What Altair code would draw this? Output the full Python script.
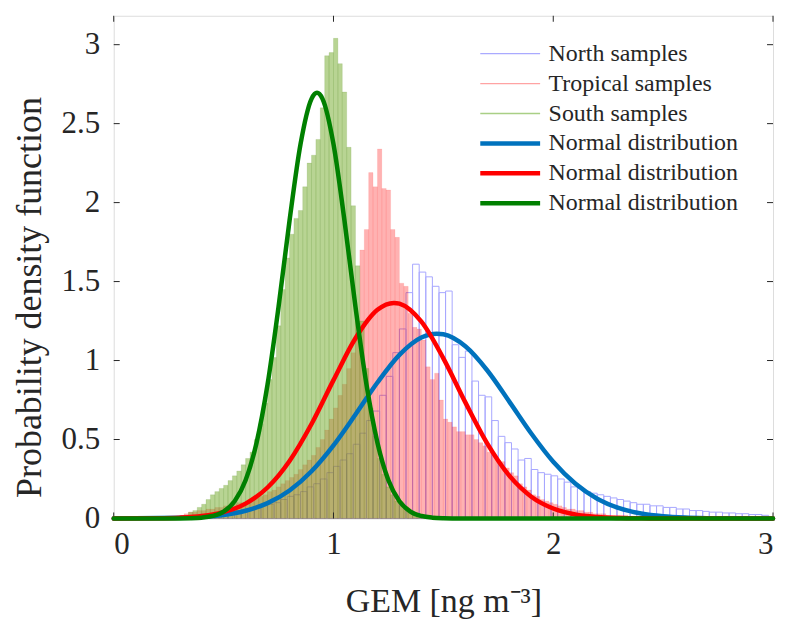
import altair as alt
import pandas as pd

# ---------------- data ----------------
# South samples histogram (pdf), bins of 0.02 starting at 0.30
south_start, south_width = 0.30, 0.02
south_vals = [0.01, 0.02, 0.04, 0.05, 0.07, 0.09, 0.12, 0.15, 0.17, 0.19,
              0.21, 0.24, 0.27, 0.30, 0.34, 0.38, 0.42, 0.50, 0.60, 0.73,
              0.88, 1.02, 1.22, 1.45, 1.65, 1.80, 1.90, 1.95, 2.10, 2.25,
              2.30, 2.40, 2.60, 2.93, 2.95, 3.04, 2.88, 2.70, 2.35, 1.98,
              1.60, 1.25, 0.95, 0.70, 0.52, 0.38, 0.28, 0.20, 0.15, 0.11,
              0.08, 0.06, 0.04, 0.03, 0.02, 0.01]

# Tropical samples histogram, bins of 0.02 starting at 0.28
trop_start, trop_width = 0.28, 0.02
trop_vals = [0.01, 0.02, 0.03, 0.04, 0.04, 0.05, 0.05, 0.06, 0.06, 0.07,
             0.07, 0.08, 0.08, 0.09, 0.10, 0.10, 0.11, 0.12, 0.13, 0.14,
             0.15, 0.17, 0.18, 0.20, 0.22, 0.24, 0.26, 0.28, 0.31, 0.34,
             0.37, 0.40, 0.45, 0.50, 0.56, 0.63, 0.70, 0.78, 0.85, 0.95,
             1.05, 1.25, 1.70, 1.83, 2.19, 2.10, 2.34, 2.09, 2.08, 1.83,
             1.78, 1.49, 1.47, 1.30, 1.21, 1.20, 1.13, 0.96, 0.88, 0.92,
             0.75, 0.63, 0.61, 0.58, 0.55, 0.55, 0.53, 0.53, 0.50, 0.48,
             0.46, 0.42, 0.40, 0.37, 0.36, 0.32, 0.29, 0.27, 0.22, 0.20,
             0.18, 0.15, 0.14, 0.12, 0.11, 0.10, 0.09, 0.08, 0.07, 0.06,
             0.06, 0.05, 0.05, 0.04, 0.04, 0.03, 0.03, 0.03, 0.02, 0.02,
             0.02, 0.02, 0.02, 0.01, 0.01, 0.01, 0.01, 0.01, 0.01, 0.01,
             0.01, 0.01, 0.01, 0.01, 0.01, 0.01]

# North samples histogram, bins of 0.03 starting at 0.34
north_start, north_width = 0.34, 0.03
north_vals = [0.01, 0.01, 0.02, 0.02, 0.03, 0.035, 0.04, 0.05, 0.055, 0.06,
              0.07, 0.08, 0.09, 0.10, 0.12, 0.14, 0.15, 0.17, 0.20, 0.22,
              0.25, 0.29, 0.33, 0.37, 0.41, 0.47, 0.54, 0.62, 0.68, 0.78,
              0.90, 1.05, 1.20, 1.43, 1.61, 1.56, 1.53, 1.47, 1.43, 1.44,
              1.10, 1.02, 1.06, 0.87, 0.78, 0.77, 0.62, 0.52, 0.48, 0.44,
              0.37, 0.38, 0.31, 0.29, 0.28, 0.27, 0.25, 0.23, 0.20, 0.19,
              0.17, 0.16, 0.15, 0.14, 0.13, 0.12, 0.11, 0.10, 0.09, 0.09,
              0.08, 0.08, 0.07, 0.07, 0.06, 0.06, 0.05, 0.05, 0.045, 0.04,
              0.04, 0.035, 0.035, 0.03, 0.03, 0.025, 0.025, 0.02]

# Fitted normal curves
north_fit_x = [0.0, 0.3, 0.4, 0.5, 0.6, 0.7, 0.8, 0.9, 1.0, 1.1, 1.2, 1.3, 1.4, 1.47,
               1.5, 1.6, 1.7, 1.8, 1.9, 2.0, 2.1, 2.2, 2.3, 2.4, 2.5, 2.6, 2.7, 2.8, 3.0]
north_fit_y = [0.0001, 0.004, 0.0095, 0.022, 0.049, 0.097, 0.177, 0.299, 0.463, 0.658,
               0.861, 1.036, 1.146, 1.17, 1.166, 1.090, 0.937, 0.740, 0.538, 0.359,
               0.221, 0.125, 0.065, 0.031, 0.0136, 0.0055, 0.002, 0.0007, 0.0]

trop_fit_x = [0.0, 0.2, 0.3, 0.4, 0.5, 0.6, 0.7, 0.8, 0.9, 1.0, 1.1, 1.2, 1.275, 1.3,
              1.4, 1.5, 1.6, 1.7, 1.8, 1.9, 2.0, 2.1, 2.2, 2.3, 2.4, 2.5, 3.0]
trop_fit_y = [0.0001, 0.0015, 0.005, 0.015, 0.040, 0.094, 0.196, 0.364, 0.598, 0.876,
              1.141, 1.321, 1.365, 1.36, 1.246, 1.014, 0.735, 0.474, 0.271, 0.138,
              0.063, 0.025, 0.009, 0.003, 0.001, 0.0, 0.0]

south_fit_x = [0.0, 0.3, 0.35, 0.4, 0.45, 0.5, 0.55, 0.6, 0.65, 0.7, 0.75, 0.8, 0.85,
               0.9, 0.925, 0.95, 1.0, 1.05, 1.1, 1.15, 1.2, 1.25, 1.3, 1.35, 1.4, 1.45,
               1.5, 1.55, 1.6, 3.0]
south_fit_y = [0.0, 0.0004, 0.0014, 0.005, 0.016, 0.044, 0.109, 0.242, 0.48, 0.849,
               1.34, 1.886, 2.37, 2.657, 2.695, 2.657, 2.37, 1.886, 1.34, 0.849, 0.48,
               0.242, 0.109, 0.044, 0.016, 0.005, 0.0014, 0.0004, 0.0, 0.0]

legend_names = ["North samples", "Tropical samples", "South samples",
                "Normal distribution", "Normal distribution ", "Normal distribution  "]
legend_colors = ["#aaaaff", "#ffa3a3", "#a9cf85", "#0072bd", "#ff0000", "#008000"]
legend_widths = [1.3, 1.3, 1.3, 4.5, 4.5, 4.5]

x_ticks = [0, 1, 2, 3]
y_ticks = [0, 0.5, 1, 1.5, 2, 2.5, 3]

# ---------------- tables ----------------
def hist_df(start, width, vals):
    lo = [round(start + i * width, 4) for i in range(len(vals))]
    hi = [round(v + width, 4) for v in lo]
    return pd.DataFrame({"x0": lo, "x1": hi, "y": vals})

north_df = hist_df(north_start, north_width, north_vals)
trop_df = hist_df(trop_start, trop_width, trop_vals)
south_df = hist_df(south_start, south_width, south_vals)

fit_df = pd.concat([
    pd.DataFrame({"x": north_fit_x, "y": north_fit_y, "series": legend_names[3], "k": 0}),
    pd.DataFrame({"x": trop_fit_x, "y": trop_fit_y, "series": legend_names[4], "k": 1}),
    pd.DataFrame({"x": south_fit_x, "y": south_fit_y, "series": legend_names[5], "k": 2}),
])
xtick_df = pd.DataFrame({"x0": x_ticks})
ytick_df = pd.DataFrame({"y": y_ticks})

FONT = "Liberation Serif"
INK = "#262626"
W, H = 661, 504
xs = alt.Scale(domain=[0, 3], nice=False, zero=False)
ys = alt.Scale(domain=[0, 3.183], nice=False, zero=False)

ax_x = alt.Axis(orient="bottom", values=x_ticks, ticks=False, domain=False, grid=False,
                format="d", labelFont=FONT, labelFontSize=31, labelColor=INK,
                labelPadding=11, title="GEM [ng m\u207b\u00b3]", titleFont=FONT,
                titleFontSize=34, titleFontWeight="normal", titleColor=INK,
                titleBaseline="alphabetic", titleY=93)
ax_y = alt.Axis(orient="left", values=y_ticks, ticks=False, domain=False, grid=False,
                format="~g", labelFont=FONT, labelFontSize=31, labelColor=INK,
                labelPadding=14, title="Probability density function", titleFont=FONT,
                titleFontSize=36, titleFontWeight="normal", titleColor=INK,
                titleBaseline="middle", titleAlign="center", titleX=-84, titleY=282)

X = lambda f: alt.X(f, scale=xs, axis=ax_x)
Y = lambda f: alt.Y(f, scale=ys, axis=ax_y)

north_bars = alt.Chart(north_df).mark_bar(
    fill="#ffffff", fillOpacity=0, stroke="#a8a8ff", strokeWidth=1
).encode(x=X("x0:Q"), x2="x1:Q", y=Y("y:Q"), y2=alt.datum(0))

trop_bars = alt.Chart(trop_df).mark_bar(
    fill="#ff0000", fillOpacity=0.30, stroke="#ff0000", strokeOpacity=0.12, strokeWidth=0.6
).encode(x=X("x0:Q"), x2="x1:Q", y=Y("y:Q"), y2=alt.datum(0))

south_bars = alt.Chart(south_df).mark_bar(
    fill="#77ac30", fillOpacity=0.52, stroke="#5a8a20", strokeOpacity=0.25, strokeWidth=0.6
).encode(x=X("x0:Q"), x2="x1:Q", y=Y("y:Q"), y2=alt.datum(0))

# inward ticks on all four sides of the box (MATLAB style)
tick_style = dict(color=INK, strokeWidth=1)
ticks_bottom = alt.Chart(xtick_df).mark_rule(**tick_style).encode(
    x=X("x0:Q"), y=alt.value(H), y2=alt.value(H - 6))
ticks_top = alt.Chart(xtick_df).mark_rule(**tick_style).encode(
    x=X("x0:Q"), y=alt.value(0), y2=alt.value(6))
ticks_left = alt.Chart(ytick_df).mark_rule(**tick_style).encode(
    y=Y("y:Q"), x=alt.value(0), x2=alt.value(6))
ticks_right = alt.Chart(ytick_df).mark_rule(**tick_style).encode(
    y=Y("y:Q"), x=alt.value(W), x2=alt.value(W - 6))

legend = alt.Legend(title=None, orient="none", legendX=365, legendY=26, direction="vertical",
                    symbolType="stroke", symbolSize=3600, clipHeight=24,
                    labelFont=FONT, labelFontSize=24, labelLimit=400,
                    labelColor=INK, labelOffset=6, rowPadding=6, padding=0,
                    labelExpr="trim(datum.label)")

def fit_layer(k):
    return alt.Chart(fit_df).transform_filter(alt.datum.k == k).mark_line(
        interpolate="monotone", strokeCap="round"
    ).encode(
        x=X("x:Q"), y=Y("y:Q"),
        color=alt.Color("series:N", scale=alt.Scale(domain=legend_names, range=legend_colors),
                        legend=legend),
        strokeWidth=alt.StrokeWidth("series:N",
                                    scale=alt.Scale(type="ordinal", domain=legend_names,
                                                    range=legend_widths),
                                    legend=legend),
    )

chart = alt.layer(
    north_bars, trop_bars, south_bars,
    ticks_bottom, ticks_top, ticks_left, ticks_right,
    fit_layer(0), fit_layer(1), fit_layer(2)
).properties(
    width=W, height=H,
    autosize=alt.AutoSizeParams(type="none"),
    padding={"left": 106, "top": 7, "right": 6, "bottom": 100},
).configure_view(stroke="#404040", strokeWidth=1).configure(background="white")

chart.save("out.html", embed_options={"renderer": "svg", "actions": False})
